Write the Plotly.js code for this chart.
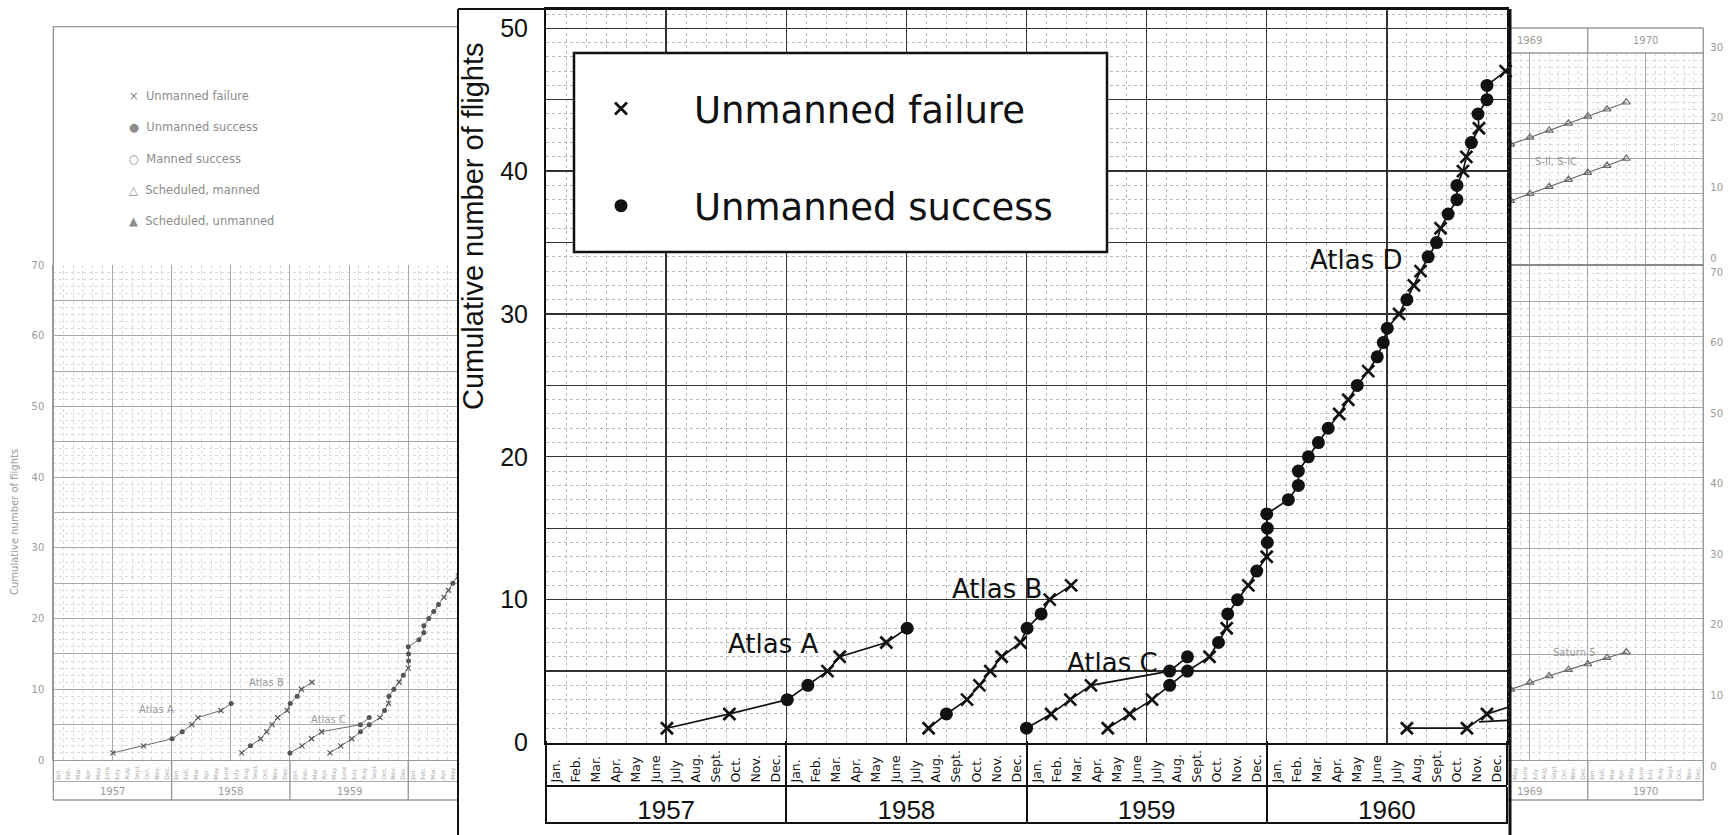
<!DOCTYPE html>
<html><head><meta charset="utf-8">
<script src="https://cdn.plot.ly/plotly-3.0.1.min.js"></script>
<style>html,body{margin:0;padding:0;background:#fff;}#chart{width:1732px;height:835px;}</style>
</head><body><div id="chart"></div>
<script>
// ---------------- data (x = months counted from the start of Jan. 1957; y = cumulative flights) ----------------
const monthNames = ['Jan.','Feb.','Mar.','Apr.','May','June','July','Aug.','Sept.','Oct.','Nov.','Dec.'];
const yearLabels = ['1957','1958','1959','1960'];
const yearMidMonths = [6, 18, 30, 42];
const yearStartMonths = [0, 12, 24, 36, 48];

const atlasA_month   = [6.04, 9.16, 12.05, 13.08, 14.06, 14.67, 17.0, 18.04];
const atlasA_count   = [1, 2, 3, 4, 5, 6, 7, 8];
const atlasA_outcome = ['F','F','S','S','F','F','F','S'];

const atlasB_month   = [19.11, 20.0, 21.03, 21.65, 22.19, 22.76, 23.7, 24.03, 24.73, 25.16, 26.23];
const atlasB_count   = [1, 2, 3, 4, 5, 6, 7, 8, 9, 10, 11];
const atlasB_outcome = ['F','S','F','F','F','F','F','S','S','F','F'];

const atlasC_month   = [24.0, 25.23, 26.19, 27.22, 31.15, 32.04];
const atlasC_count   = [1, 2, 3, 4, 5, 6];
const atlasC_outcome = ['S','F','F','F','S','S'];

const atlasD_month   = [28.06, 29.15, 30.27, 31.15, 32.04, 33.14, 33.59, 34.0, 34.05, 34.54, 35.08, 35.5,
                        36.0, 36.03, 36.03, 36.0, 37.08, 37.58, 37.58, 38.08, 38.58, 39.07, 39.62, 40.07,
                        40.52, 41.07, 41.52, 41.82, 42.02, 42.61, 43.0, 43.35, 43.68, 44.06, 44.48, 44.68,
                        45.06, 45.5, 45.5, 45.8, 45.97, 46.22, 46.6, 46.55, 47.0, 47.0, 47.93];
const atlasD_count   = [1, 2, 3, 4, 5, 6, 7, 8, 9, 10, 11, 12, 13, 14, 15, 16, 17, 18, 19, 20, 21, 22, 23, 24,
                        25, 26, 27, 28, 29, 30, 31, 32, 33, 34, 35, 36, 37, 38, 39, 40, 41, 42, 43, 44, 45, 46, 47];
const atlasD_outcome = ['F','F','F','S','S','F','S','F','S','S','F','S','F','S','S','S','S','S','S','S','S','S','F','F',
                        'S','F','S','S','S','F','S','F','F','S','S','F','S','S','S','F','F','S','F','S','S','S','F'];

const atlasE_month   = [43.0, 46.0, 47.0];
const atlasE_count   = [1, 1, 2];
const atlasE_outcome = ['F','F','F'];
const atlasE_exit_month = [47.0, 48.6];      // line leaving the right edge
const atlasE_exit_count = [2, 2.7];
const atlasF_month   = [46.6, 48.6];         // short line leaving the right edge
const atlasF_count   = [1.45, 1.6];

// faded background chart (same sheet; its 1969-1970 part shows at the right)
const bgYearLabelsLeft  = ['1957','1958','1959'];
const bgYearMidLeft     = [6, 18, 30];
const bgYearStartsLeft  = [12, 24, 36];
const bgYearLabelsRight = ['1969','1970'];
const bgYearMidRight    = [150, 162];
const bgLegendEntries   = ['×  Unmanned failure','●  Unmanned success','○  Manned success','△  Scheduled, manned','▲  Scheduled, unmanned'];

const sched1_month = [148, 150, 152, 154, 156, 158, 160];
const sched1_count = [17, 18, 19, 20, 21, 22, 23];
const sched2_month = [148, 150, 152, 154, 156, 158, 160];
const sched2_count = [9, 10, 11, 12, 13, 14, 15];
const saturn5_month = [148, 150, 152, 154, 156, 158, 160];
const saturn5_count = [10, 11, 11.9, 12.8, 13.6, 14.5, 15.3];

// ---------------- helpers ----------------
const W = 1732, H = 835;
const px = v => v / W;
const py = v => 1 - v / H;
const SANS = 'DejaVu Sans, sans-serif';
const HELV = 'Liberation Sans, Arial, sans-serif';
const INK = '#111';
const BG_TXT = '#9a9a9a', BG_LINE = '#999', BG_GRID = '#a8a8a8', BG_MINOR = '#dadada', BG_DATA = '#6a6a6a';

const series = [
  {m: atlasA_month, c: atlasA_count, o: atlasA_outcome},
  {m: atlasB_month, c: atlasB_count, o: atlasB_outcome},
  {m: atlasC_month, c: atlasC_count, o: atlasC_outcome},
  {m: atlasD_month, c: atlasD_count, o: atlasD_outcome},
  {m: atlasE_month, c: atlasE_count, o: atlasE_outcome}
];
const extraLines = [
  {m: atlasE_exit_month, c: atlasE_exit_count},
  {m: atlasF_month, c: atlasF_count}
];
const failX = [], failY = [], succX = [], succY = [];
series.forEach(s => s.o.forEach((o, i) => {
  if (o === 'F') { failX.push(s.m[i]); failY.push(s.c[i]); }
  else { succX.push(s.m[i]); succY.push(s.c[i]); }
}));

function monthTicks(from, to) {
  const v = [], t = [];
  for (let m = from; m <= to; m++) { v.push(m + 0.5); t.push(monthNames[((m % 12) + 12) % 12]); }
  return {v, t};
}
function countTicks(max) {
  const v = [], t = [];
  for (let k = 0; k <= max; k += 5) { v.push(k); t.push(k % 10 === 0 ? String(k) : ''); }
  return {v, t};
}
const mainMonths = monthTicks(0, 47);
const leftMonths = monthTicks(0, 40);
const rightMonths = monthTicks(148, 167);
const mainY = countTicks(50);
const bgY70 = countTicks(70);
const bgY30 = countTicks(30);

// ---------------- traces ----------------
const data = [];
series.concat(extraLines).forEach(s => data.push({
  type: 'scatter', mode: 'lines', x: s.m, y: s.c, xaxis: 'x', yaxis: 'y',
  line: {color: INK, width: 1.7}, showlegend: false, hoverinfo: 'skip'
}));
data.push({
  type: 'scatter', mode: 'markers', name: 'Unmanned failure', legendgroup: 'f',
  x: failX, y: failY, xaxis: 'x2', yaxis: 'y', cliponaxis: false,
  marker: {symbol: 'x-thin', size: 12, color: INK, line: {width: 2.7, color: INK}}
});
data.push({
  type: 'scatter', mode: 'markers', name: 'Unmanned success', legendgroup: 's',
  x: succX, y: succY, xaxis: 'x3', yaxis: 'y', cliponaxis: false,
  marker: {symbol: 'circle', size: 13, color: INK}
});
// faded background, left part
series.concat(extraLines).forEach(s => data.push({
  type: 'scatter', mode: 'lines', x: s.m, y: s.c, xaxis: 'x4', yaxis: 'y4',
  line: {color: BG_DATA, width: 1}, showlegend: false, hoverinfo: 'skip'
}));
data.push({type: 'scatter', mode: 'markers', x: succX, y: succY, xaxis: 'x4', yaxis: 'y4', showlegend: false,
  hoverinfo: 'skip', marker: {symbol: 'circle', size: 5, color: '#555'}});
data.push({type: 'scatter', mode: 'markers', x: failX, y: failY, xaxis: 'x5', yaxis: 'y4', showlegend: false,
  hoverinfo: 'skip', marker: {symbol: 'x-thin', size: 5, color: '#555', line: {width: 1.2, color: '#555'}}});
// faded background, right part
data.push({type: 'scatter', mode: 'lines', x: saturn5_month, y: saturn5_count, xaxis: 'x7', yaxis: 'y7',
  showlegend: false, hoverinfo: 'skip', line: {color: BG_DATA, width: 1.2}});
data.push({type: 'scatter', mode: 'markers', x: saturn5_month, y: saturn5_count, xaxis: 'x9', yaxis: 'y7',
  showlegend: false, hoverinfo: 'skip',
  marker: {symbol: 'triangle-up-open', size: 7, color: BG_DATA, line: {width: 1.2}}});
[[sched1_month, sched1_count], [sched2_month, sched2_count]].forEach(([m, c]) => data.push({
  type: 'scatter', mode: 'lines+markers', x: m, y: c, xaxis: 'x8', yaxis: 'y8', showlegend: false,
  hoverinfo: 'skip', line: {color: BG_DATA, width: 1.2},
  marker: {symbol: 'triangle-up-open', size: 7, color: BG_DATA, line: {width: 1.2}}
}));

// ---------------- layout ----------------
const minorDotted = (c) => ({tickmode: 'linear', tick0: 0, dtick: 1, showgrid: true, gridcolor: c, gridwidth: 1, griddash: 'dot', ticks: ''});
const bgXaxis = (dom, rng, anchor) => ({
  domain: dom, range: rng, anchor: anchor, tickmode: 'linear', tick0: 0, dtick: 6,
  showgrid: true, gridcolor: BG_GRID, gridwidth: 1, minor: minorDotted(BG_MINOR),
  showticklabels: false, ticks: '', showline: false, zeroline: false, fixedrange: true
});
const bgYaxis = (dom, max, anchor, side, tk, shift) => ({
  domain: dom, range: [0, max], anchor: anchor, side: side, tickmode: 'array', tickvals: tk.v, ticktext: tk.t,
  showgrid: true, gridcolor: BG_GRID, gridwidth: 1, minor: minorDotted(BG_MINOR),
  ticks: '', ticklabelstandoff: 6, ticklabelshift: shift, tickfont: {family: SANS, size: 10, color: BG_TXT},
  showline: false, zeroline: false, fixedrange: true
});
const monthAxis = (over, rng, pos, mt, size, color, lw) => ({
  overlaying: over, anchor: 'free', position: pos, side: 'top', range: rng,
  tickmode: 'array', tickvals: mt.v, ticktext: mt.t, tickangle: -90,
  tickfont: {family: SANS, size: size, color: color}, ticks: '', showgrid: false,
  showline: true, linecolor: color, linewidth: lw, zeroline: false, fixedrange: true
});

const leftRange = [0, (458 - 53.3) / 9.86];
const rightRange = [147.72, 168];

const layout = {
  width: W, height: H, autosize: false,
  margin: {l: 0, r: 0, t: 0, b: 0, pad: 0},
  paper_bgcolor: '#fff', plot_bgcolor: 'rgba(0,0,0,0)',
  hovermode: false, showlegend: true,
  legend: {x: px(548), y: py(78), xanchor: 'left', yanchor: 'top', bgcolor: 'rgba(0,0,0,0)', borderwidth: 0,
           font: {family: SANS, size: 37, color: INK}, traceorder: 'grouped', tracegroupgap: 46, itemwidth: 136},
  // ---- main inset ----
  xaxis: {domain: [px(546), px(1507)], range: [0, 48], anchor: 'y', tickmode: 'linear', tick0: 0, dtick: 6,
          showgrid: true, gridcolor: '#333', gridwidth: 1.3, minor: minorDotted('#b8b8b8'),
          showticklabels: false, ticks: '', showline: true, mirror: true, linecolor: INK, linewidth: 2,
          zeroline: false, fixedrange: true},
  yaxis: {domain: [py(742.5), py(9)], range: [0, 51.35], anchor: 'x', tickmode: 'array',
          tickvals: mainY.v, ticktext: mainY.t, showgrid: true, gridcolor: '#333', gridwidth: 1.3,
          minor: minorDotted('#b8b8b8'), ticks: '', ticklabelstandoff: 11,
          tickfont: {family: HELV, size: 25, color: INK}, showline: true, mirror: true,
          linecolor: INK, linewidth: 2, zeroline: false, fixedrange: true},
  xaxis2: Object.assign(monthAxis('x', [0, 48], py(786), mainMonths, 12.5, INK, 2), {
          minor: {tickmode: 'array', tickvals: yearStartMonths, ticks: 'outside', ticklen: 44, tickwidth: 2,
                  tickcolor: INK, showgrid: false}}),
  xaxis3: {overlaying: 'x', anchor: 'free', position: py(786), side: 'bottom', range: [0, 48],
           tickmode: 'array', tickvals: yearMidMonths, ticktext: yearLabels, ticks: '', ticklabelstandoff: 6,
           tickfont: {family: HELV, size: 26, color: INK}, showgrid: false, showline: false, zeroline: false,
           minor: {tickmode: 'array', tickvals: yearStartMonths, ticks: 'outside', ticklen: 37, tickwidth: 2,
                   tickcolor: INK, showgrid: false}, fixedrange: true},
  // ---- faded background, left ----
  xaxis4: Object.assign(bgXaxis([px(53.3), px(458)], leftRange, 'y4'), {showline: true, linecolor: BG_LINE}),
  yaxis4: Object.assign(bgYaxis([py(760), py(265)], 70, 'x4', 'left', bgY70, 0), {showline: true, linecolor: BG_LINE}),
  xaxis5: monthAxis('x4', leftRange, py(781), leftMonths, 6, '#aaa', 1.2),
  // ---- faded background, right ----
  xaxis7: Object.assign(bgXaxis([px(1508), px(1703.3)], rightRange, 'y7'), {showline: true, linecolor: BG_LINE}),
  yaxis7: bgYaxis([py(760), py(266)], 70, 'x7', 'right', bgY70, 6),
  xaxis8: bgXaxis([px(1508), px(1703.3)], rightRange, 'y8'),
  yaxis8: bgYaxis([py(264), py(53)], 30, 'x8', 'right', bgY30, -6),
  xaxis9: monthAxis('x7', rightRange, py(781), rightMonths, 6, '#aaa', 1.2),
  shapes: [],
  annotations: []
};

const hline = (y, x0, x1, color, w) => ({type: 'line', xref: 'paper', yref: 'paper', x0: px(x0), x1: px(x1), y0: py(y), y1: py(y), line: {color: color, width: w}});
const vline = (x, y0, y1, color, w) => ({type: 'line', xref: 'paper', yref: 'paper', x0: px(x), x1: px(x), y0: py(y0), y1: py(y1), line: {color: color, width: w}});
const S = layout.shapes;
// background frames
S.push(vline(53.3, 26.6, 800, BG_LINE, 1.4), hline(26.6, 53.3, 458, BG_LINE, 1.4), hline(800, 53.3, 458, BG_LINE, 1.4));
bgYearStartsLeft.forEach(m => S.push({type: 'line', xref: 'x4', yref: 'paper', x0: m, x1: m, y0: py(760), y1: py(800), line: {color: BG_LINE, width: 1.4}}));
S.push(vline(1703.3, 28, 800, BG_LINE, 1.4), hline(28, 1508, 1703.3, BG_LINE, 1.4), hline(53, 1508, 1703.3, BG_LINE, 1.4),
       hline(265, 1508, 1703.3, '#888', 2), hline(800, 1508, 1703.3, BG_LINE, 1.4));
S.push({type: 'line', xref: 'x7', yref: 'paper', x0: 156, x1: 156, y0: py(760), y1: py(800), line: {color: BG_LINE, width: 1.4}});
S.push({type: 'line', xref: 'x8', yref: 'paper', x0: 156, x1: 156, y0: py(28), y1: py(53), line: {color: BG_LINE, width: 1.4}});
// inset frame
S.push(vline(458, 9, 835, INK, 2), hline(9, 458, 1508, INK, 2), vline(1510, 9, 835, INK, 3));
S.push(vline(546, 742.5, 823, INK, 2), hline(823, 546, 1508, INK, 2));
// legend box
S.push({type: 'rect', xref: 'paper', yref: 'paper', x0: px(574), x1: px(1107), y0: py(252), y1: py(53),
        fillcolor: '#fff', line: {color: INK, width: 2.5}, layer: 'above'});

const A = layout.annotations;
[['Atlas A', 11.34, 6.9], ['Atlas B', 22.55, 10.76], ['Atlas C', 28.3, 5.58], ['Atlas D', 40.5, 33.8]]
  .forEach(([t, x, y]) => A.push({text: t, x: x, y: y, xref: 'x', yref: 'y', showarrow: false,
                                  font: {family: SANS, size: 26, color: INK}}));
A.push({text: 'Cumulative number of flights', xref: 'paper', yref: 'paper', x: px(473), y: py(226),
        xanchor: 'center', yanchor: 'middle', textangle: -90, showarrow: false,
        font: {family: HELV, size: 29, color: INK}});
// background texts
A.push({text: 'Cumulative number of flights', xref: 'paper', yref: 'paper', x: px(14), y: py(522),
        xanchor: 'center', yanchor: 'middle', textangle: -90, showarrow: false,
        font: {family: SANS, size: 10, color: BG_TXT}});
bgLegendEntries.forEach((t, i) => A.push({text: t, xref: 'paper', yref: 'paper', x: px(127), y: py(96 + i * 31.3),
        xanchor: 'left', yanchor: 'middle', showarrow: false, font: {family: SANS, size: 11.5, color: '#8c8c8c'}}));
bgYearLabelsLeft.forEach((t, i) => A.push({text: t, xref: 'x4', yref: 'paper', x: bgYearMidLeft[i], y: py(791),
        yanchor: 'middle', showarrow: false, font: {family: SANS, size: 10, color: BG_TXT}}));
bgYearLabelsRight.forEach((t, i) => {
  A.push({text: t, xref: 'x7', yref: 'paper', x: bgYearMidRight[i], y: py(791), yanchor: 'middle', showarrow: false, font: {family: SANS, size: 10, color: BG_TXT}});
  A.push({text: t, xref: 'x8', yref: 'paper', x: bgYearMidRight[i], y: py(41), yanchor: 'middle', showarrow: false, font: {family: SANS, size: 10, color: BG_TXT}});
});
[['Atlas A', 10.5, 7.2], ['Atlas B', 21.6, 10.9], ['Atlas C', 27.9, 5.7]].forEach(([t, x, y]) =>
  A.push({text: t, x: x, y: y, xref: 'x4', yref: 'y4', showarrow: false, font: {family: SANS, size: 10, color: BG_TXT}}));
A.push({text: 'S-II, S-IC', x: 152.7, y: 14.6, xref: 'x8', yref: 'y8', showarrow: false, font: {family: SANS, size: 10, color: BG_TXT}});
A.push({text: 'Saturn 5', x: 154.6, y: 15.2, xref: 'x7', yref: 'y7', showarrow: false, font: {family: SANS, size: 10, color: BG_TXT}});

Plotly.newPlot('chart', data, layout, {staticPlot: true, displayModeBar: false});
</script>
</body></html>
